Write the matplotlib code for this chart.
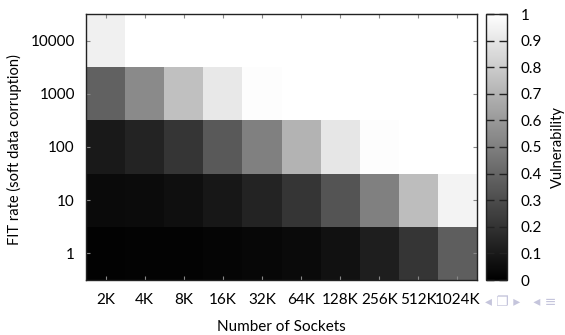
import numpy as np
import matplotlib
matplotlib.use("Agg")
import matplotlib.pyplot as plt

plt.rcParams['font.family'] = ['Lato', 'DejaVu Sans']

sockets = ["2K", "4K", "8K", "16K", "32K", "64K", "128K", "256K", "512K", "1024K"]
fit_rates = ["1", "10", "100", "1000", "10000"]

# vulnerability per FIT rate row (bottom to top), per socket count
vul_fit1 = [0.01, 0.012, 0.015, 0.02, 0.028, 0.04, 0.07, 0.12, 0.21, 0.37]
vul_fit10 = [0.04, 0.045, 0.06, 0.09, 0.14, 0.21, 0.33, 0.50, 0.74, 0.95]
vul_fit100 = [0.10, 0.14, 0.21, 0.35, 0.50, 0.70, 0.90, 0.99, 1.0, 1.0]
vul_fit1000 = [0.38, 0.54, 0.75, 0.91, 0.99, 1.0, 1.0, 1.0, 1.0, 1.0]
vul_fit10000 = [0.94, 1.0, 1.0, 1.0, 1.0, 1.0, 1.0, 1.0, 1.0, 1.0]

cbar_ticks = [0, 0.1, 0.2, 0.3, 0.4, 0.5, 0.6, 0.7, 0.8, 0.9, 1.0]
cbar_labels = ["0", "0.1", "0.2", "0.3", "0.4", "0.5", "0.6", "0.7", "0.8", "0.9", "1"]

data = np.array([vul_fit1, vul_fit10, vul_fit100, vul_fit1000, vul_fit10000])

fig = plt.figure(figsize=(5.65, 3.35), dpi=100)
ax = fig.add_axes([86/565, 55/335, 391/565, 266/335])
mesh = ax.pcolormesh(np.arange(len(sockets) + 1) - 0.5, np.arange(len(fit_rates) + 1) - 0.5,
                     data, cmap='gray', vmin=0, vmax=1, shading='flat')
ax.set_xlim(-0.5, len(sockets) - 0.5)
ax.set_ylim(-0.5, len(fit_rates) - 0.5)
ax.set_xticks(np.arange(len(sockets)))
ax.set_xticklabels(sockets, fontsize=11)
ax.set_yticks(np.arange(len(fit_rates)))
ax.set_yticklabels(fit_rates, fontsize=11)
ax.tick_params(direction='in', length=3, color='#888888', top=True, right=True, pad=8)
ax.tick_params(axis='x', pad=9)
for s in ax.spines.values():
    s.set_linewidth(1.0)
    s.set_color('#222222')
ax.set_xlabel("Number of Sockets", fontsize=11, labelpad=10)
ax.set_ylabel("FIT rate (soft data corruption)", fontsize=10.5)
ax.yaxis.set_label_coords(-0.163, 0.49)

cax = fig.add_axes([486/565, 55/335, 21/565, 266/335])
cb = fig.colorbar(mesh, cax=cax, ticks=cbar_ticks)
cb.minorticks_off()
cb.ax.set_yticklabels(cbar_labels, fontsize=11)
cb.ax.tick_params(direction='in', length=6, width=1, color='#222222', left=True, right=True, pad=10)
cb.outline.set_linewidth(1.0)
cb.outline.set_edgecolor('#222222')
cb.set_label("Vulnerability", fontsize=10.5, labelpad=6)

fig.text(0.858, 0.098, "\u25c2 \u2750 \u25b8   \u25c2 \u2261",
         fontsize=10, color='#c5c5dc', family='DejaVu Sans', va='center', ha='left', zorder=-1)

fig.savefig("out.png", dpi=100)
